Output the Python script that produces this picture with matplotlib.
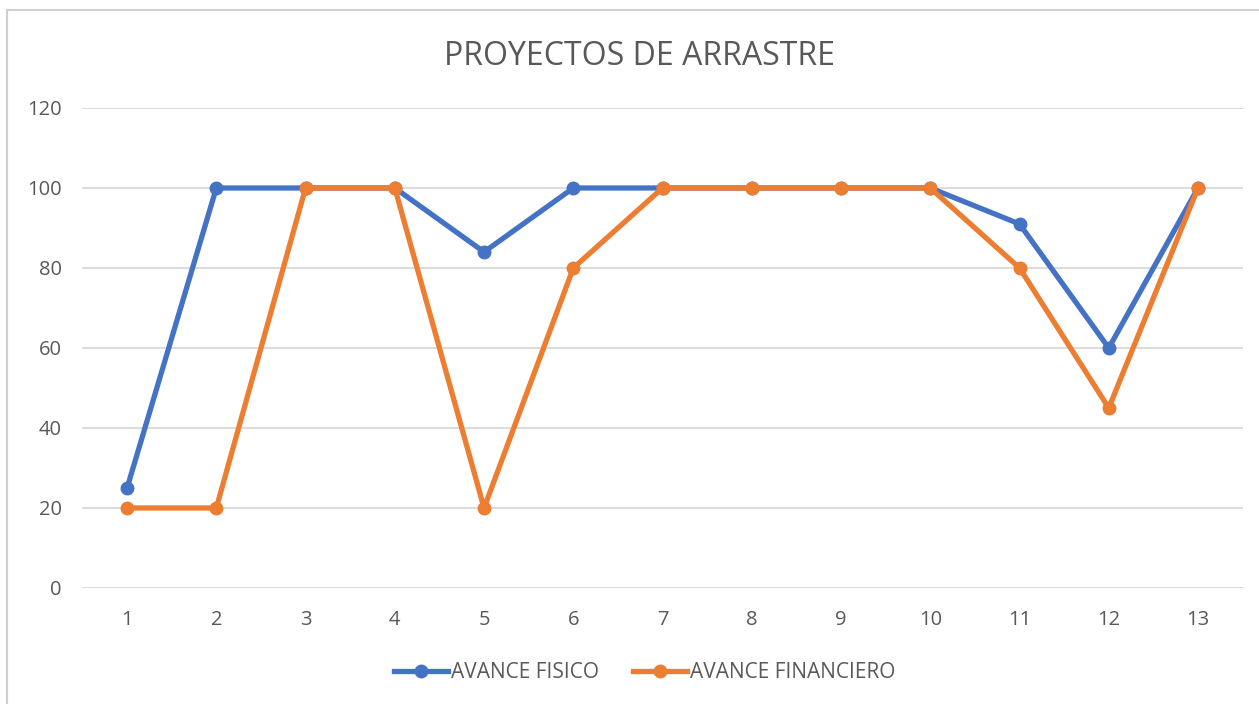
import matplotlib.pyplot as plt
from matplotlib.lines import Line2D

# chart data
categories = ["1", "2", "3", "4", "5", "6", "7", "8", "9", "10", "11", "12", "13"]
avance_fisico = [25, 100, 100, 100, 84, 100, 100, 100, 100, 100, 91, 60, 100]
avance_financiero = [20, 20, 100, 100, 20, 80, 100, 100, 100, 100, 80, 45, 100]
y_ticks = [0, 20, 40, 60, 80, 100, 120]

blue = "#4472C4"
orange = "#ED7D31"
text_gray = "#595959"

plt.rcParams["font.family"] = ["Open Sans", "DejaVu Sans"]

fig = plt.figure(figsize=(12.59, 7.04), dpi=100)
ax = fig.add_axes([0.0655, 0.1648, 0.9215, 0.6818])

x = list(range(1, len(categories) + 1))
ax.plot(x, avance_fisico, color=blue, lw=3.8, marker="o", ms=9,
        label="AVANCE FISICO", solid_joinstyle="round", zorder=3)
ax.plot(x, avance_financiero, color=orange, lw=3.8, marker="o", ms=9,
        label="AVANCE FINANCIERO", solid_joinstyle="round", zorder=4)

ax.set_xlim(0.5, len(categories) + 0.5)
ax.set_ylim(0, 120)
ax.set_xticks(x)
ax.set_xticklabels(categories)
ax.set_yticks(y_ticks)
ax.grid(axis="y", color="#D9D9D9", lw=1.3)
ax.set_axisbelow(True)
for side in ["top", "right", "left", "bottom"]:
    ax.spines[side].set_visible(False)
ax.tick_params(length=0, labelsize=14.5, labelcolor=text_gray)
ax.tick_params(axis="x", pad=16)
ax.tick_params(axis="y", pad=15)

fig.text(0.508, 0.92, "PROYECTOS DE ARRASTRE", ha="center", va="center",
         fontsize=23, color=text_gray)

leg = fig.legend(loc="center", bbox_to_anchor=(0.512, 0.045), ncol=2,
                 frameon=False, fontsize=15, handlelength=2.6,
                 columnspacing=1.6, handletextpad=0.15)
for t in leg.get_texts():
    t.set_color(text_gray)

# chart frame (partly cropped in the reference)
fig.add_artist(Line2D([7 / 1259, 7 / 1259], [0, 1 - 10 / 704],
                      transform=fig.transFigure, color="#D0D0D0", lw=1.5))
fig.add_artist(Line2D([7 / 1259, 1], [1 - 10 / 704, 1 - 10 / 704],
                      transform=fig.transFigure, color="#D0D0D0", lw=1.5))

fig.savefig("out.png", dpi=100)
